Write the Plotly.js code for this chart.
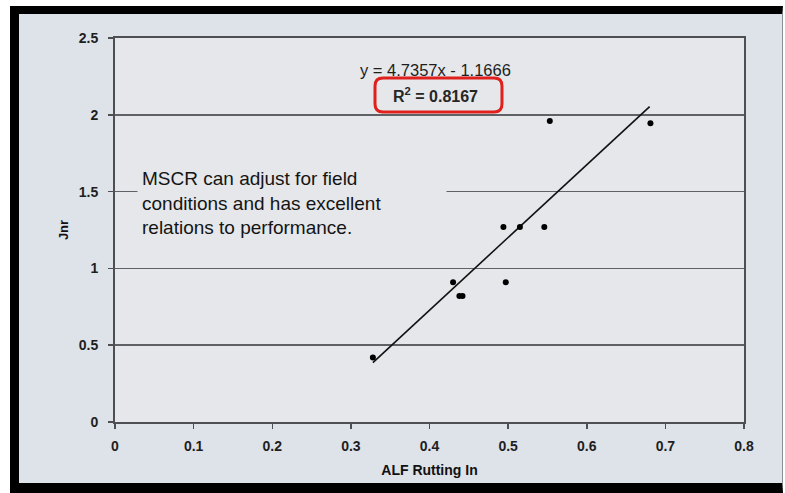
<!DOCTYPE html>
<html>
<head>
<meta charset="utf-8">
<script src="https://cdn.plot.ly/plotly-3.0.1.min.js"></script>
<style>
  html, body { margin: 0; padding: 0; background: #ffffff; width: 785px; height: 493px; overflow: hidden; }
  #frame {
    position: absolute; left: 10px; top: 6px;
    width: 763px; height: 469px;
    border-top: 8px solid #000; border-left: 9px solid #000;
    border-bottom: 10px solid #000; border-right: 1px solid #8a8d92;
    background: #dee2e9;
  }
  #chart { width: 763px; height: 469px; }
</style>
</head>
<body>
<div id="frame"><div id="chart"></div></div>
<script>
// ALF rutting (in) against MSCR Jnr
const rutting = [0.328, 0.430, 0.438, 0.442, 0.494, 0.497, 0.515, 0.546, 0.553, 0.681];
const jnr     = [0.42,  0.91,  0.82,  0.82,  1.27,  0.91,  1.27,  1.27,  1.96,  1.945];

// Linear fit reported on the chart
const slope = 4.7357;
const intercept = -1.1666;
const rSquared = 0.8167;
const fitRange = [0.328, 0.680];

const xTicks = [0, 0.1, 0.2, 0.3, 0.4, 0.5, 0.6, 0.7, 0.8];
const yTicks = [0, 0.5, 1, 1.5, 2, 2.5];

const fitY = fitRange.map(x => slope * x + intercept);

const FONT = '"Liberation Sans", Arial, sans-serif';
const PLOT_BG = '#e5e7ea';

const traces = [
  {
    x: fitRange, y: fitY, mode: 'lines', type: 'scatter',
    line: { color: '#111111', width: 1.6 }, hoverinfo: 'skip'
  },
  {
    x: rutting, y: jnr, mode: 'markers', type: 'scatter',
    marker: { color: '#000000', size: 6 }
  }
];

// rounded frame around the R² label (data units)
const bx0 = 0.3307, bx1 = 0.4922, by0 = 2.018, by1 = 2.240, rx = 0.0102, ry = 0.052;
const roundBox = `M ${bx0 + rx},${by0} L ${bx1 - rx},${by0} Q ${bx1},${by0} ${bx1},${by0 + ry} ` +
  `L ${bx1},${by1 - ry} Q ${bx1},${by1} ${bx1 - rx},${by1} L ${bx0 + rx},${by1} ` +
  `Q ${bx0},${by1} ${bx0},${by1 - ry} L ${bx0},${by0 + ry} Q ${bx0},${by0} ${bx0 + rx},${by0} Z`;

const axisCommon = {
  showline: true, linecolor: '#4d4f52', linewidth: 2, mirror: true,
  ticks: 'outside', ticklen: 5, tickwidth: 1.5, tickcolor: '#4d4f52',
  tickfont: { family: FONT, size: 14, color: '#1e1e1e', weight: 'bold' },
  zeroline: false, automargin: false
};

const layout = {
  width: 763, height: 469,
  margin: { l: 96, r: 38, t: 24, b: 61 },
  paper_bgcolor: '#dee2e9',
  plot_bgcolor: PLOT_BG,
  showlegend: false,
  xaxis: Object.assign({}, axisCommon, {
    range: [0, 0.8], tickvals: xTicks, ticktext: xTicks.map(String),
    ticklabelstandoff: 5,
    showgrid: false,
    title: { text: 'ALF Rutting In', standoff: 12,
             font: { family: FONT, size: 14, color: '#111111', weight: 'bold' } }
  }),
  yaxis: Object.assign({}, axisCommon, {
    range: [0, 2.5], tickvals: yTicks, ticktext: yTicks.map(String),
    ticklabelstandoff: 7,
    showgrid: true, gridcolor: '#5f6164', gridwidth: 1.5,
    title: { text: 'Jnr', standoff: 7,
             font: { family: FONT, size: 13, color: '#111111', weight: 'bold' } }
  }),
  shapes: [
    { type: 'path', xref: 'x', yref: 'y', path: roundBox,
      line: { color: '#e0201c', width: 3 }, fillcolor: 'rgba(0,0,0,0)', layer: 'above' }
  ],
  annotations: [
    {
      x: 0.407, y: 2.292, xref: 'x', yref: 'y', showarrow: false,
      text: `y = ${slope}x - ${Math.abs(intercept)}`,
      font: { family: FONT, size: 16.5, color: '#1e1e1e' }
    },
    {
      x: 0.407, y: 2.129, xref: 'x', yref: 'y', showarrow: false,
      text: `R<sup>2</sup> = ${rSquared}`,
      font: { family: FONT, size: 16, color: '#262626', weight: 'bold' }
    },
    {
      x: 0.028, y: 1.426, xref: 'x', yref: 'y', showarrow: false,
      xanchor: 'left', yanchor: 'middle', align: 'left',
      width: 300, borderpad: 4, bgcolor: PLOT_BG,
      text: 'MSCR can adjust for field<br>conditions and has excellent<br>relations to performance.',
      font: { family: FONT, size: 19, color: '#141414', weight: 500 }
    }
  ]
};

Plotly.newPlot('chart', traces, layout, { displayModeBar: false, staticPlot: true });
</script>
</body>
</html>
